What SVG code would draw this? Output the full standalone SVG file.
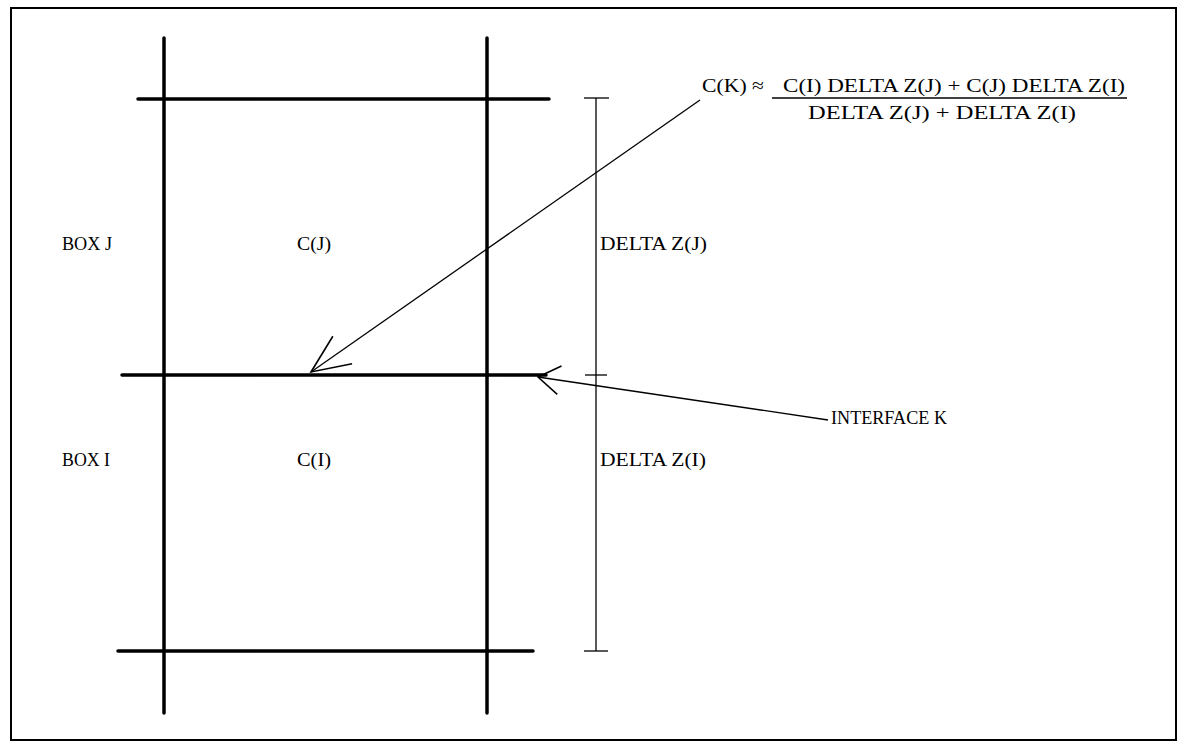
<svg xmlns="http://www.w3.org/2000/svg" width="1182" height="746" viewBox="0 0 1182 746">
<style>
.t{font-family:"Liberation Serif","Times New Roman",serif;font-size:19.5px;fill:#000}
.thick{stroke:#000;stroke-width:3.5;stroke-linecap:round;fill:none}
.thin{stroke:#000;stroke-width:1.3;fill:none}
</style>
<defs>
<marker id="ah" markerUnits="userSpaceOnUse" markerWidth="60" markerHeight="60" refX="0" refY="0" viewBox="-40 -20 50 40" orient="auto" overflow="visible">
<path d="M-32,-14 L0,0 L-32,14" fill="none" stroke="#000" stroke-width="1.3"/>
</marker>
<marker id="ah2" markerUnits="userSpaceOnUse" markerWidth="60" markerHeight="60" refX="0" refY="0" viewBox="-40 -20 50 40" orient="auto" overflow="visible">
<path d="M-18,-12 L0,0 L-18,12" fill="none" stroke="#000" stroke-width="1.3"/>
</marker>
</defs>
<rect width="1182" height="746" fill="#fff"/>
<rect x="11" y="8" width="1165" height="732" fill="none" stroke="#000" stroke-width="2"/>
<g id="grid">
<line class="thick" x1="164" y1="38" x2="164" y2="713"/>
<line class="thick" x1="487" y1="38" x2="487" y2="713"/>
<line class="thick" x1="138" y1="99" x2="549" y2="99"/>
<line class="thick" x1="122" y1="375" x2="546" y2="375"/>
<line class="thick" x1="118" y1="651" x2="533" y2="651"/>
</g>
<g id="dimension">
<line class="thin" x1="596" y1="98" x2="596" y2="651"/>
<line class="thin" x1="584" y1="98" x2="609" y2="98"/>
<line class="thin" x1="585" y1="375" x2="607" y2="375"/>
<line class="thin" x1="584" y1="651" x2="608" y2="651"/>
</g>
<g id="box-j">
<text class="t" x="62" y="250" textLength="50" lengthAdjust="spacingAndGlyphs">BOX J</text>
<text class="t" x="297" y="250" textLength="34" lengthAdjust="spacingAndGlyphs">C(J)</text>
<text class="t" x="600" y="250" textLength="107" lengthAdjust="spacingAndGlyphs">DELTA Z(J)</text>
</g>
<g id="box-i">
<text class="t" x="62" y="466" textLength="48" lengthAdjust="spacingAndGlyphs">BOX I</text>
<text class="t" x="297" y="466" textLength="34" lengthAdjust="spacingAndGlyphs">C(I)</text>
<text class="t" x="600" y="466" textLength="106" lengthAdjust="spacingAndGlyphs">DELTA Z(I)</text>
</g>
<g id="interface-k">
<text class="t" x="831" y="424" textLength="116" lengthAdjust="spacingAndGlyphs">INTERFACE K</text>
</g>
<g id="formula">
<text class="t" x="702" y="92" textLength="62" lengthAdjust="spacingAndGlyphs">C(K) ≈</text>
<text class="t" x="783" y="92" textLength="342" lengthAdjust="spacingAndGlyphs">C(I) DELTA Z(J) + C(J) DELTA Z(I)</text>
<line x1="772" y1="98" x2="1127" y2="98" stroke="#000" stroke-width="1.6"/>
<text class="t" x="808" y="119" textLength="268" lengthAdjust="spacingAndGlyphs">DELTA Z(J) + DELTA Z(I)</text>
</g>
<g id="connectors">
<line class="thin" x1="700" y1="100" x2="311" y2="372" marker-end="url(#ah)"/>
<line class="thin" x1="828" y1="420" x2="538" y2="377" marker-end="url(#ah2)"/>
</g>
</svg>
